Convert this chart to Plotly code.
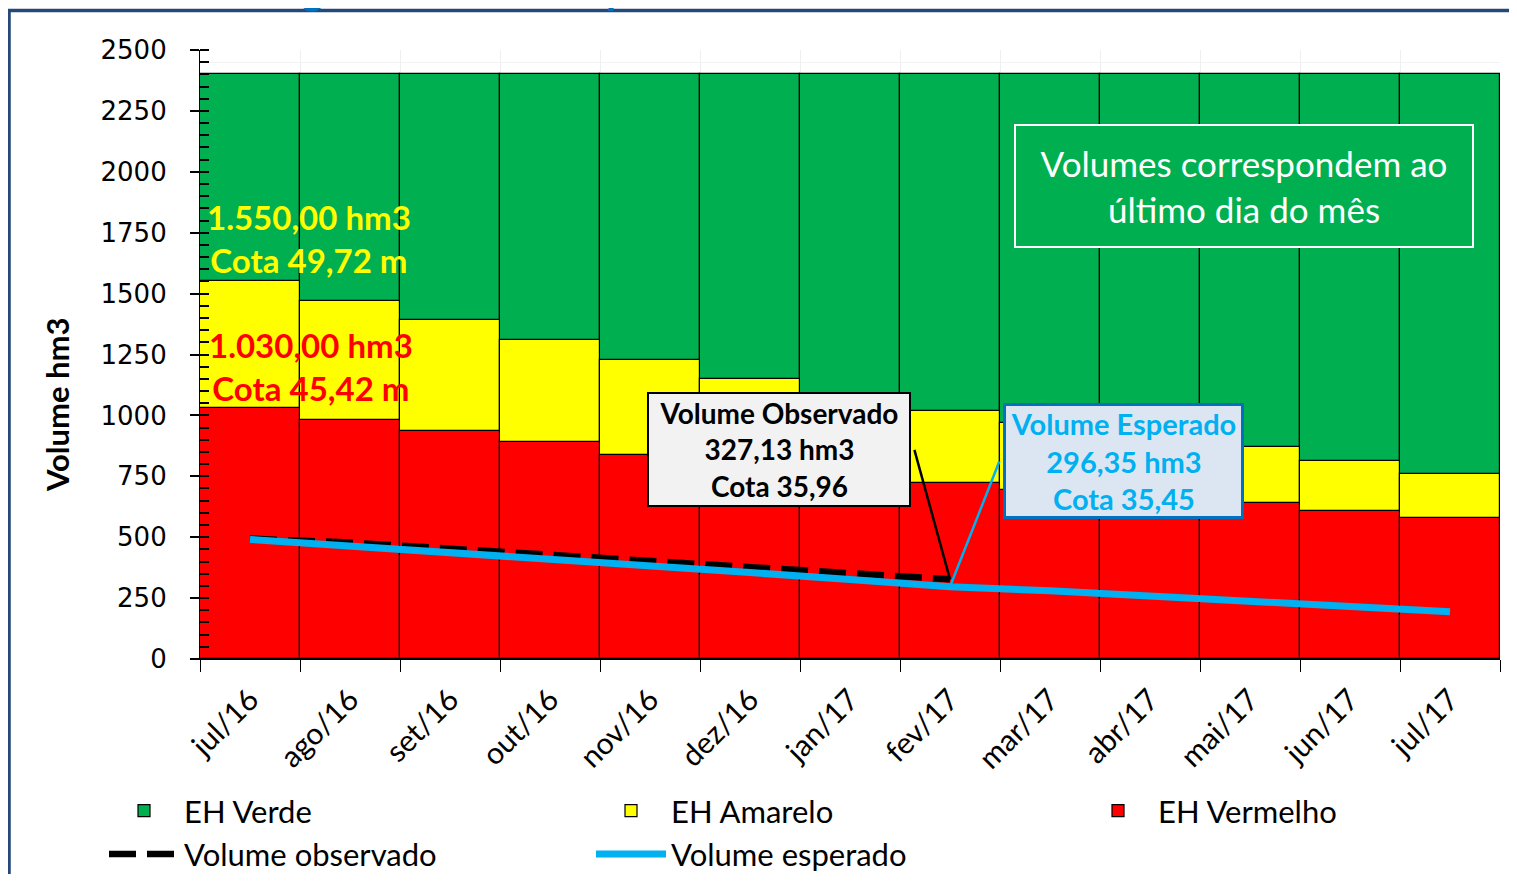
import plotly.graph_objects as go

months = ['jul/16', 'ago/16', 'set/16', 'out/16', 'nov/16', 'dez/16', 'jan/17',
          'fev/17', 'mar/17', 'abr/17', 'mai/17', 'jun/17', 'jul/17']
# upper limits of each hydrological state band (hm3)
eh_verde = [2400, 2400, 2400, 2400, 2400, 2400, 2400, 2400, 2400, 2400, 2400, 2400, 2400]
eh_amarelo = [1550, 1470, 1392, 1310, 1227, 1150, 1084, 1018, 969, 920, 870, 813, 760]
eh_vermelho = [1030, 981, 936, 891, 837, 795, 757, 722, 695, 668, 640, 608, 579]
vol_observado = [494, 478, 453, 427, 400, 375, 350, 327.13, None, None, None, None, None]
vol_esperado = [491, 465, 439, 411, 383, 355, 326, 296.35, 280, 258, 236, 214, 194]

# page has an 8px body margin; figure sized so the page is exactly 1517x882
OFF = 8
W, H = 1517 - 2 * OFF, 882 - 2 * OFF
L, T = 200 - OFF, 50 - OFF          # plot area left / top in figure px
PW, PH = 1300, 609
R, B = W - L - PW, H - T - PH


def px(page_x):
    return (page_x - OFF - L) / PW


def py(page_y):
    return (T + PH - (page_y - OFF)) / PH


GREEN, YELLOW, RED = '#00B050', '#FFFF00', '#FF0000'
BLUE = '#00B0F0'
FONT = 'Lato'

fig = go.Figure()
for name, vals, col in [('EH Verde', eh_verde, GREEN),
                        ('EH Amarelo', eh_amarelo, YELLOW),
                        ('EH Vermelho', eh_vermelho, RED)]:
    fig.add_trace(go.Bar(name=name, x=months, y=vals, width=1,
                         marker=dict(color=col, line=dict(color='black', width=1.2))))

fig.add_trace(go.Scatter(name='Volume observado', x=months, y=vol_observado,
                         mode='lines', line=dict(color='black', width=6.5, dash='27px,11px')))
fig.add_trace(go.Scatter(name='Volume esperado', x=months, y=vol_esperado,
                         mode='lines', line=dict(color=BLUE, width=7)))

C = dict(xanchor='center', yanchor='middle')
annotations = [
    # title (cut off at top of the image, as in the original)
    dict(text='<b>Estados Hidrológicos : Volume Esperado / Volume Observado</b>',
         xref='paper', yref='paper', x=px(18), y=py(-11), xanchor='left', yanchor='middle',
         showarrow=False, font=dict(family=FONT, size=40, color='#0070C0')),
    dict(text='<b>Volume hm3</b>', xref='paper', yref='paper', x=px(57), y=py(405),
         textangle=-90, showarrow=False, font=dict(family=FONT, size=31, color='black'), **C),
    dict(text='<b>1.550,00 hm3<br>Cota 49,72 m</b>', xref='paper', yref='paper',
         x=px(309), y=py(239), showarrow=False,
         font=dict(family=FONT, size=33, color=YELLOW), **C),
    dict(text='<b>1.030,00 hm3<br>Cota 45,42 m</b>', xref='paper', yref='paper',
         x=px(311), y=py(366), showarrow=False,
         font=dict(family=FONT, size=33, color=RED), **C),
    # leader lines
    dict(text='', x='fev/17', y=vol_observado[7], xref='x', yref='y',
         ax=-36, ay=-131, showarrow=True, arrowhead=0, arrowwidth=2.5, arrowcolor='black'),
    dict(text='', x='fev/17', y=vol_esperado[7], xref='x', yref='y',
         ax=50, ay=-127, showarrow=True, arrowhead=0, arrowwidth=2.5, arrowcolor=BLUE),
    dict(text='<b>Volume Observado<br>327,13 hm3<br>Cota 35,96</b>', xref='paper', yref='paper',
         x=px(779), y=py(449.5), showarrow=False, width=256, borderpad=2,
         bgcolor='#F2F2F2', bordercolor='black', borderwidth=2,
         font=dict(family=FONT, size=28, color='black'), **C),
    dict(text='<b>Volume Esperado<br>296,35 hm3<br>Cota 35,45</b>', xref='paper', yref='paper',
         x=px(1123.5), y=py(460.5), showarrow=False, width=235, borderpad=0,
         bgcolor='#DCE6F2', bordercolor='#0070C0', borderwidth=3,
         font=dict(family=FONT, size=29, color=BLUE), **C),
    dict(text='Volumes correspondem ao<br>último dia do mês', xref='paper', yref='paper',
         x=px(1244), y=py(186), showarrow=False, width=440, height=104, borderpad=8,
         bgcolor=GREEN, bordercolor='white', borderwidth=2,
         font=dict(family=FONT, size=35, color='white'), **C),
]

shapes = [
    dict(type='rect', xref='paper', yref='paper', x0=px(9), x1=px(1560), y0=py(10.5), y1=py(930),
         line=dict(color='#24487A', width=3.5), fillcolor='rgba(0,0,0,0)', layer='above'),
]

fig.update_layout(
    width=W, height=H,
    margin=dict(l=L, r=R, t=T, b=B, pad=0, autoexpand=False),
    paper_bgcolor='white', plot_bgcolor='white',
    barmode='overlay', bargap=0,
    font=dict(family=FONT, size=26, color='black'),
    showlegend=True,
    legend=dict(orientation='h', x=px(104), y=py(784), xanchor='left', yanchor='top',
                font=dict(family=FONT, size=31, color='black'),
                itemwidth=70, entrywidthmode='pixels', entrywidth=402,
                bgcolor='rgba(0,0,0,0)', traceorder='normal', tracegroupgap=0),
    annotations=annotations,
    shapes=shapes,
    xaxis=dict(type='category', range=[-0.5, 12.5], tickson='boundaries',
               ticks='outside', ticklen=12, tickcolor='black', tickwidth=1,
               showline=True, linecolor='black', linewidth=1.2,
               showgrid=True, gridcolor='#EFEFEF', gridwidth=1,
               tickangle=-45, ticklabelstandoff=10,
               tickfont=dict(family=FONT, size=30, color='black')),
    yaxis=dict(range=[0, 2500], dtick=250, tick0=0, ticks='outside', ticklen=9,
               tickcolor='black', tickwidth=1.5, showline=True, linecolor='black', linewidth=1.2,
               showgrid=True, gridcolor='#D9D9D9', zeroline=False,
               layer='above traces', ticklabelstandoff=18,
               tickfont=dict(family='DejaVu Sans', size=26, color='black'),
               minor=dict(dtick=50, ticks='inside', ticklen=9, tickcolor='black', tickwidth=1.5,
                          showgrid=True, gridcolor='#F2F2F2')),
    # inner half of the major ticks (the original's major ticks cross the axis)
    yaxis2=dict(overlaying='y', anchor='x', side='left', range=[0, 2500], dtick=250, tick0=0,
                ticks='inside', ticklen=9, tickcolor='black', tickwidth=1.5,
                showticklabels=False, showgrid=False, showline=False, zeroline=False,
                layer='above traces'),
)

fig.write_html('out.html')
